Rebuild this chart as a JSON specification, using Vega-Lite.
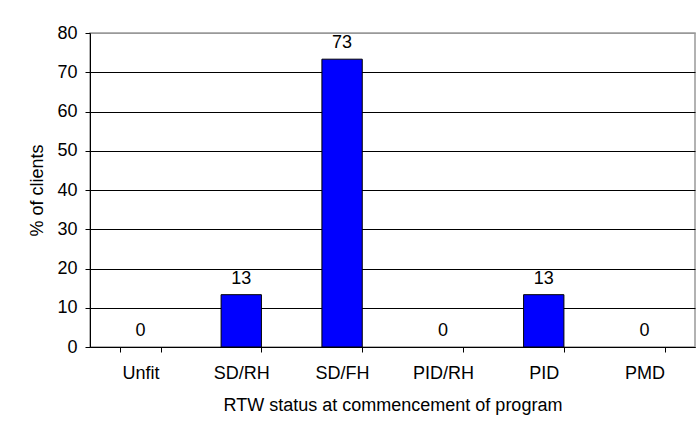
{
  "$schema": "https://vega.github.io/schema/vega-lite/v6.json",
  "width": 605,
  "height": 314,
  "autosize": "none",
  "padding": {"left": 90, "top": 33, "right": 2, "bottom": 83},
  "background": "white",
  "config": {
    "font": "Liberation Sans",
    "view": {"stroke": "#999999", "strokeWidth": 1.5},
    "axis": {"labelFont": "Liberation Sans", "titleFont": "Liberation Sans", "labelColor": "#000", "titleColor": "#000", "titleFontWeight": "normal"}
  },
  "data": {
    "values": [
      {"status": "Unfit", "pct": 0},
      {"status": "SD/RH", "pct": 13.33},
      {"status": "SD/FH", "pct": 73.33},
      {"status": "PID/RH", "pct": 0},
      {"status": "PID", "pct": 13.33},
      {"status": "PMD", "pct": 0}
    ]
  },
  "encoding": {
    "x": {
      "field": "status",
      "type": "nominal",
      "sort": ["Unfit", "SD/RH", "SD/FH", "PID/RH", "PID", "PMD"],
      "scale": {"paddingInner": 0.6, "paddingOuter": 0.3},
      "axis": {
        "title": "RTW status at commencement of program",
        "labelAngle": 0,
        "labelFontSize": 18,
        "titleFontSize": 18,
        "tickBand": "extent",
        "tickSize": 5,
        "tickColor": "#000",
        "domainColor": "#000",
        "labelPadding": 12,
        "titlePadding": 14,
        "grid": false
      }
    },
    "y": {
      "field": "pct",
      "type": "quantitative",
      "scale": {"domain": [0, 80], "nice": false},
      "axis": {
        "title": "% of clients",
        "values": [0, 10, 20, 30, 40, 50, 60, 70, 80],
        "labelFontSize": 18,
        "titleFontSize": 18,
        "tickSize": 5,
        "tickColor": "#000",
        "domainColor": "#000",
        "labelPadding": 8,
        "titlePadding": 10,
        "grid": true,
        "gridColor": {"condition": {"test": "datum.value == 80", "value": "#999999"}, "value": "#000000"},
        "gridOpacity": 1,
        "gridWidth": 1
      }
    }
  },
  "layer": [
    {
      "mark": {"type": "bar", "color": "#0000FF", "stroke": "#000", "strokeWidth": 1},
      "encoding": {
        "strokeOpacity": {"condition": {"test": "datum.pct == 0", "value": 0}, "value": 1}
      }
    },
    {
      "mark": {"type": "text", "baseline": "alphabetic", "dy": -11, "fontSize": 18, "color": "#000"},
      "encoding": {
        "text": {"field": "pct", "type": "quantitative", "format": ".0f"}
      }
    }
  ]
}
